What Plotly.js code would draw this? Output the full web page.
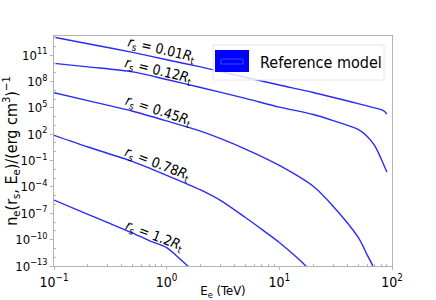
<!DOCTYPE html>
<html>
<head>
<meta charset="utf-8">
<script src="https://cdn.plot.ly/plotly-3.0.1.min.js"></script>
<style>
html,body{margin:0;padding:0;background:#fff;}
#chart{width:436px;height:300px;}
</style>
</head>
<body>
<div id="chart"></div>
<script>
// ---- data ----
const seriesNames = ["0.01", "0.12", "0.45", "0.78", "1.2"];

const E_001 = [0.1, 0.2, 0.5, 1, 2, 5, 10, 20, 50, 70, 80, 85, 90];
const n_001 = [1.05e13, 1.95e12, 2.0e11, 2.95e10, 4.5e9, 2.95e8, 3.9e7, 5.5e6, 3.0e5, 9.8e4, 6.3e4, 4.3e4, 1.95e4];

const E_012 = [0.1, 0.2, 0.5, 1, 2, 5, 10, 20, 30, 50, 60, 70, 80, 90];
const n_012 = [1.15e10, 4.5e9, 1.23e9, 1.66e8, 2.04e7, 1.2e6, 1.2e5, 1.74e4, 3.5e3, 347, 59, 5.2, 0.16, 4.9e-3];

const E_045 = [0.1, 0.2, 0.5, 1, 2, 5, 10, 20, 30, 50, 60, 68, 75];
const n_045 = [5.2e6, 6.5e5, 4.0e4, 3.2e3, 219, 2.04, 2.75e-2, 1.17e-4, 6.3e-7, 1.9e-10, 2.0e-12, 8e-14, 1e-15];

const E_078 = [0.1, 0.2, 0.5, 1, 2, 3, 5, 7, 10, 15, 18];
const n_078 = [74, 3.5, 7.6e-2, 2.1e-3, 4.6e-5, 2.95e-6, 3.3e-8, 1.45e-9, 4.8e-11, 5.4e-13, 5.6e-14];

const E_12 = [0.1, 0.2, 0.3, 0.5, 0.7, 1, 1.3, 1.6];
const n_12 = [3.2e-6, 7.6e-8, 8.7e-9, 5.5e-10, 7.8e-11, 1.23e-11, 7.2e-13, 6.3e-14];

const xTickVals = [0.1, 1, 10, 100];
const xTickText = ["10<sup>\u22121</sup>", "10<sup>0</sup>", "10<sup>1</sup>", "10<sup>2</sup>"];
const yTickVals = [1e-13, 1e-10, 1e-7, 1e-4, 1e-1, 1e2, 1e5, 1e8, 1e11];
const yTickText = ["10<sup>\u221213</sup>", "10<sup>\u221210</sup>", "10<sup>\u22127</sup>", "10<sup>\u22124</sup>",
                   "10<sup>\u22121</sup>", "10<sup>2</sup>", "10<sup>5</sup>", "10<sup>8</sup>", "10<sup>11</sup>"];
const legendLabel = "Reference model";

// ---- build ----
const Es = [E_001, E_012, E_045, E_078, E_12];
const Ns = [n_001, n_012, n_045, n_078, n_12];
const lineColor = "#2b2bf5";
const traces = Es.map((E, i) => ({
  x: E, y: Ns[i], type: "scatter", mode: "lines",
  name: "r_s = " + seriesNames[i] + "R_t",
  line: {color: lineColor, width: 1.4, shape: "spline", smoothing: 0.8},
  showlegend: false, hoverinfo: "skip"
}));

const FONT = "'DejaVu Sans Condensed', 'DejaVu Sans', sans-serif";
const axisGray = "#b3b3b3";

const minorX = [];
[0.1, 1, 10].forEach(d => { for (let k = 2; k <= 9; k++) minorX.push(d * k); });
const minorY = [];
for (let p = -13; p <= 13; p++) if ((p + 13) % 3 !== 0) minorY.push(Math.pow(10, p));

// label positions in pixel coords -> paper
const L = 54, R = 392, T = 36, B = 266;
const px = x => (x - L) / (R - L);
const py = y => (B - y) / (B - T);

const curveLabels = [
  {t: "0.01", x: 161, y: 50, a: 13},
  {t: "0.12", x: 158, y: 71, a: 14},
  {t: "0.45", x: 158, y: 111, a: 18},
  {t: "0.78", x: 157, y: 164, a: 21},
  {t: "1.2",  x: 154, y: 236, a: 21}
];
const annotations = curveLabels.map(c => ({
  xref: "paper", yref: "paper", x: px(c.x), y: py(c.y),
  xanchor: "center", yanchor: "middle", showarrow: false,
  textangle: c.a,
  text: "<i>r</i><sub>s</sub> = " + c.t + "<i>R</i><sub>t</sub>",
  font: {family: FONT, size: 14, color: "#000"}
}));
annotations.push({
  xref: "paper", yref: "paper", x: px(258), y: py(62),
  xanchor: "left", yanchor: "middle", showarrow: false,
  text: legendLabel, font: {family: FONT, size: 16, color: "#000"}
});

const shapes = [
  {type: "rect", xref: "paper", yref: "paper", x0: px(213), x1: px(384), y0: py(80), y1: py(45),
   fillcolor: "rgba(255,255,255,0.8)", line: {color: "#e6e6e6", width: 1}, layer: "above"},
  {type: "rect", xref: "paper", yref: "paper", x0: px(215), x1: px(249), y0: py(72), y1: py(50),
   fillcolor: "#0000ff", line: {color: "#0000ff", width: 0}, layer: "above"},
  {type: "rect", xref: "paper", yref: "paper", x0: px(221), x1: px(243), y0: py(64), y1: py(59),
   fillcolor: "rgba(0,0,0,0)", line: {color: "#4a5cff", width: 0.8}, layer: "above"}
];

const layout = {
  width: 436, height: 300,
  margin: {l: L, r: 436 - R, t: T, b: 300 - B, pad: 0},
  paper_bgcolor: "#fff", plot_bgcolor: "#fff",
  font: {family: FONT, size: 13, color: "#000"},
  showlegend: false,
  xaxis: {
    type: "log", range: [-1, 2], tickmode: "array", tickvals: xTickVals, ticktext: xTickText,
    ticks: "outside", ticklen: 3, tickcolor: axisGray, showgrid: false, zeroline: false,
    showline: true, linecolor: axisGray, linewidth: 1, mirror: true,
    tickfont: {family: FONT, size: 14},
    minor: {tickmode: "array", tickvals: minorX, ticks: "inside", ticklen: 2, tickcolor: axisGray, showgrid: false},
    title: {text: "E<sub>e</sub> (TeV)", font: {family: FONT, size: 13}, standoff: 4}
  },
  yaxis: {
    type: "log", range: [-13, 13.17], tickmode: "array", tickvals: yTickVals, ticktext: yTickText,
    ticks: "outside", ticklen: 3, tickcolor: axisGray, showgrid: false, zeroline: false,
    showline: true, linecolor: axisGray, linewidth: 1, mirror: true,
    tickfont: {family: FONT, size: 13},
    minor: {tickmode: "array", tickvals: minorY, ticks: "inside", ticklen: 2, tickcolor: axisGray, showgrid: false},
    title: {text: "n<sub>e</sub>(r<sub>s</sub>, E<sub>e</sub>)/(erg cm<sup>3</sup>)<sup>\u22121</sup>",
            font: {family: FONT, size: 16}, standoff: 2}
  },
  annotations: annotations,
  shapes: shapes
};

Plotly.newPlot("chart", traces, layout, {staticPlot: true, displayModeBar: false});
</script>
</body>
</html>
